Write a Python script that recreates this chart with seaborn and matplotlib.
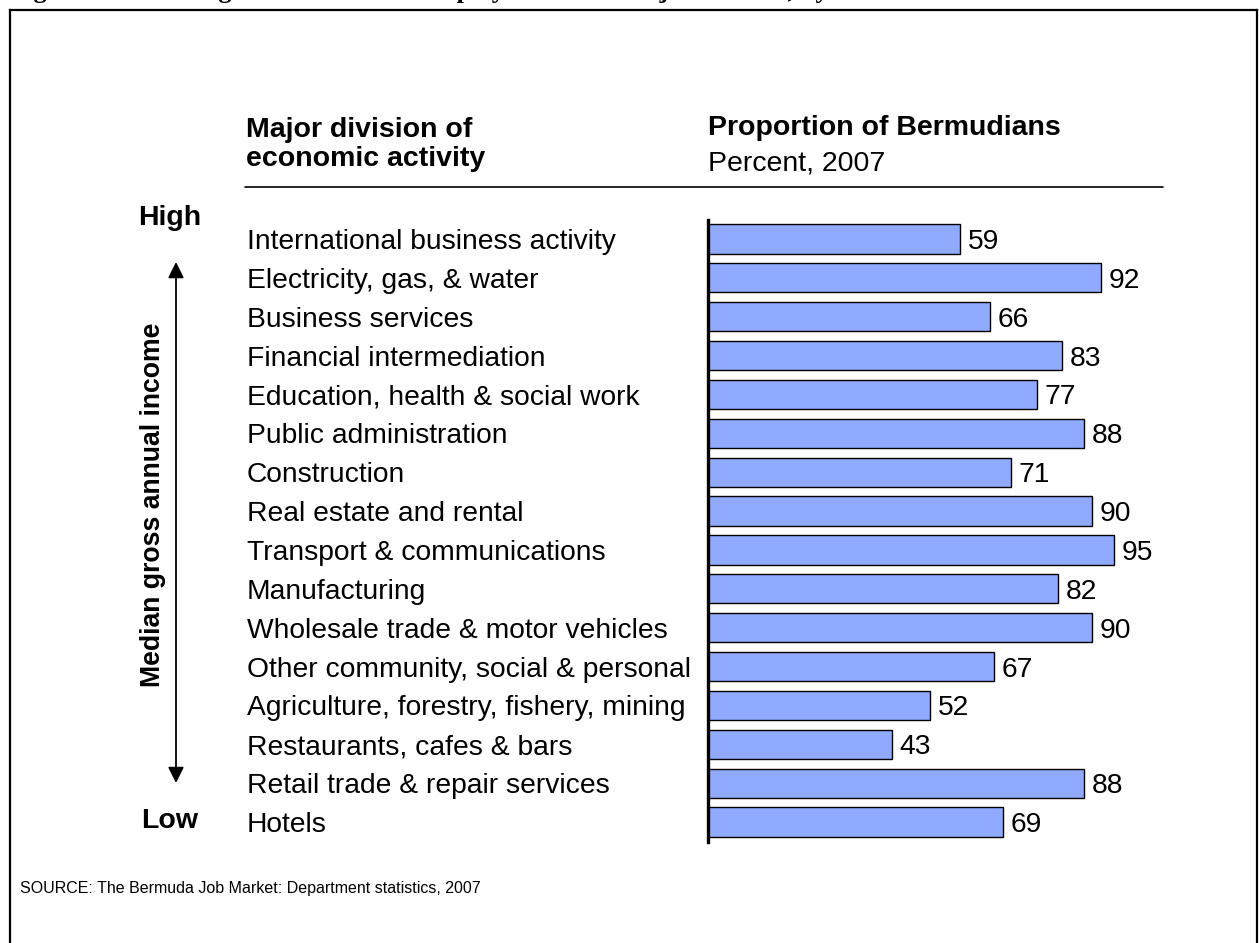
import matplotlib
matplotlib.use("Agg")
import matplotlib.pyplot as plt
import seaborn as sns
import pandas as pd
from matplotlib.lines import Line2D
from matplotlib.patches import FancyArrowPatch

# Industry divisions, ordered from highest to lowest median gross annual income
divisions = [
    "International business activity",
    "Electricity, gas, & water",
    "Business services",
    "Financial intermediation",
    "Education, health & social work",
    "Public administration",
    "Construction",
    "Real estate and rental",
    "Transport & communications",
    "Manufacturing",
    "Wholesale trade & motor vehicles",
    "Other community, social & personal",
    "Agriculture, forestry, fishery, mining",
    "Restaurants, cafes & bars",
    "Retail trade & repair services",
    "Hotels",
]
# Share of Bermudians among those employed, percent, 2007
bermudian_pct = [59, 92, 66, 83, 77, 88, 71, 90, 95, 82, 90, 67, 52, 43, 88, 69]

df = pd.DataFrame({"division": divisions, "pct": bermudian_pct})

sns.set_theme(style="white")
plt.rcParams["font.family"] = ["Liberation Sans", "DejaVu Sans"]
plt.rcParams["text.color"] = "black"
plt.rcParams["ytick.color"] = "black"
plt.rcParams["ytick.labelcolor"] = "black"

W, H = 1259, 943
DPI = 100
fig = plt.figure(figsize=(W / DPI, H / DPI), dpi=DPI)


def fx(px):
    return px / W


def fy(py):
    return 1 - py / H


# Bar panel: value 0 at x=708 px, 100 at x=1135 px
top_px, bot_px = 219.5, 841.5
ax = fig.add_axes([fx(708), fy(bot_px), fx(1135) - fx(708), (bot_px - top_px) / H])

sns.barplot(data=df, x="pct", y="division", ax=ax, color="#8FAAFF",
            saturation=1, width=0.75, edgecolor="black", linewidth=1.0)

ax.set_xlim(0, 100)
ax.set_ylim(len(divisions) - 0.5, -0.5)
ax.set_xlabel("")
ax.set_ylabel("")
ax.set_xticks([])
for side in ("top", "right", "bottom"):
    ax.spines[side].set_visible(False)
ax.spines["left"].set_linewidth(2.4)
ax.spines["left"].set_color("black")
ax.patch.set_alpha(0)

# Division names, left-aligned in their own column
ax.tick_params(axis="y", length=0, pad=(708 - 247) * 72 / DPI, labelsize=20.3,
               labelcolor="black")
for lab in ax.get_yticklabels():
    lab.set_horizontalalignment("left")

value_labels = ax.bar_label(ax.containers[0], labels=[str(v) for v in bermudian_pct],
                            padding=5.5, fontsize=20.3, color="black", clip_on=False)
for t in value_labels:
    t.set_verticalalignment("center_baseline")

# Column headers
fig.text(fx(246), fy(137), "Major division of", fontsize=20.5,
         fontweight="bold", va="baseline", ha="left")
fig.text(fx(246), fy(166), "economic activity", fontsize=20.5,
         fontweight="bold", va="baseline", ha="left")
fig.text(fx(708), fy(135), "Proportion of Bermudians", fontsize=20.5,
         fontweight="bold", va="baseline", ha="left")
fig.text(fx(708), fy(170), "Percent, 2007", fontsize=20.5,
         va="baseline", ha="left")
fig.add_artist(Line2D([fx(245), fx(1163)], [fy(187), fy(187)],
                      color="black", lw=1.2))

# Income scale on the left
fig.text(fx(170), fy(225), "High", fontsize=20.5, fontweight="bold",
         ha="center", va="baseline")
fig.text(fx(170), fy(828), "Low", fontsize=20.5, fontweight="bold",
         ha="center", va="baseline")
fig.add_artist(FancyArrowPatch((fx(176), fy(262)), (fx(176), fy(783)),
                               transform=fig.transFigure,
                               arrowstyle="<|-|>,head_length=6,head_width=3",
                               mutation_scale=1.6, color="black", lw=1.3,
                               shrinkA=0, shrinkB=0))
fig.text(fx(153), fy(505), "Median gross annual income", fontsize=19.2,
         fontweight="bold", rotation=90, ha="center", va="center")

# Source note
fig.text(fx(20), fy(893), "SOURCE: The Bermuda Job Market: Department statistics, 2007",
         fontsize=11.5, ha="left", va="baseline")

# Frame around the exhibit
frame_kw = dict(color="black", lw=1.6, solid_capstyle="projecting")
fig.add_artist(Line2D([fx(10), fx(10)], [fy(10), fy(H + 5)], **frame_kw))
fig.add_artist(Line2D([fx(10), fx(1257)], [fy(10), fy(10)], **frame_kw))
fig.add_artist(Line2D([fx(1257), fx(1257)], [fy(10), fy(H + 5)], **frame_kw))

# Exhibit heading above the frame, running off the top of the page
fig.text(fx(10), fy(-1.5),
         "Figure 9: Percentage of Bermudians employed in each major division, by median income",
         fontsize=19, fontweight="bold", family=["Liberation Serif", "DejaVu Serif"],
         ha="left", va="baseline")

fig.savefig("out.png", dpi=DPI)
